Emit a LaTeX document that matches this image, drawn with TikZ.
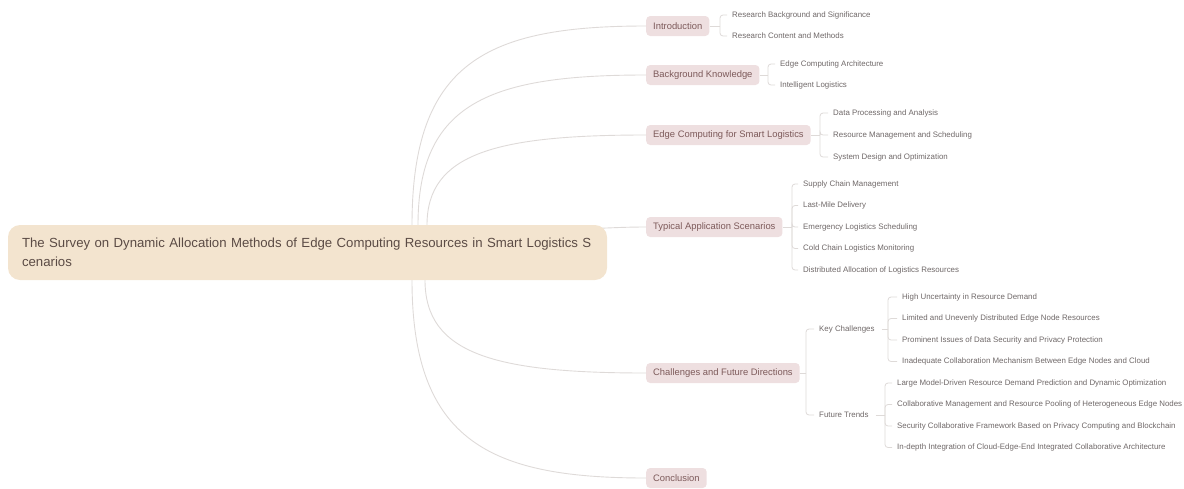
\documentclass[tikz,border=0pt]{standalone}
\usepackage{fontspec}
\setmainfont{Liberation Sans}
\usetikzlibrary{calc}
\definecolor{linec}{HTML}{DEDAD8}
\definecolor{lonefill}{HTML}{EEDFE0}
\definecolor{lonetext}{HTML}{7D5A5A}
\definecolor{rootfill}{HTML}{F3E4CF}
\definecolor{roottext}{HTML}{5B4B45}
\definecolor{childtext}{HTML}{6F6868}
\tikzset{
  conn/.style={draw=linec, line width=0.9pt},
  brk/.style={draw=linec, line width=0.8pt, rounded corners=3pt},
  rootbox/.style={fill=rootfill, text=roottext, rounded corners=12pt, text width=571pt, inner xsep=14pt, inner ysep=0pt, minimum height=55pt, align=left, font=\fontsize{13.2}{19}\selectfont},
  lonebox/.style={fill=lonefill, text=lonetext, rounded corners=4pt, inner xsep=7pt, inner ysep=0pt, minimum height=20pt, anchor=west, font=\fontsize{9.4}{11}\selectfont},
  leaf/.style={text=childtext, inner sep=0pt, anchor=west, font=\fontsize{7.9}{9}\selectfont},
}
\begin{document}
\begin{tikzpicture}[x=1pt,y=-1pt]
\useasboundingbox (0,0) rectangle (1184,488);
% level-1 nodes
\node[lonebox] (intro) at (646,26) {Introduction};
\node[lonebox] (back) at (646,75) {Background Knowledge};
\node[lonebox] (edge) at (646,135) {Edge Computing for Smart Logistics};
\node[lonebox] (typ) at (646,227) {Typical Application Scenarios};
\node[lonebox] (chal) at (646,373) {Challenges and Future Directions};
\node[lonebox] (conc) at (646,478) {Conclusion};
% curve start points on root
\coordinate (s1) at (412,225);
\coordinate (s2) at (418,225);
\coordinate (s3) at (427,225);
\coordinate (s4) at (560,229);
\coordinate (s5) at (425,280);
\coordinate (s6) at (412,280);
\draw[conn] (s1) .. controls ($(s1)!0.82!(s1|-intro.west)$) and ($(s1|-intro.west)!0.32!(intro.west)$) .. (intro.west);
\draw[conn] (s2) .. controls ($(s2)!0.82!(s2|-back.west)$) and ($(s2|-back.west)!0.32!(back.west)$) .. (back.west);
\draw[conn] (s3) .. controls ($(s3)!0.8!(s3|-edge.west)$) and ($(s3|-edge.west)!0.32!(edge.west)$) .. (edge.west);
\draw[conn] (s4) .. controls (600,229) and (615,227) .. (typ.west);
\draw[conn] (s5) .. controls ($(s5)!0.8!(s5|-chal.west)$) and ($(s5|-chal.west)!0.32!(chal.west)$) .. (chal.west);
\draw[conn] (s6) .. controls ($(s6)!0.82!(s6|-conc.west)$) and ($(s6|-conc.west)!0.34!(conc.west)$) .. (conc.west);
% root
\node[rootbox] (root) at (307.5,252.5) {\mbox{The Survey on Dynamic Allocation Methods of Edge Computing Resources in Smart Logistics S}\\cenarios};
% Introduction children
\node[leaf] (i1) at (732,15) {Research Background and Significance};
\node[leaf] (i2) at (732,36) {Research Content and Methods};
\coordinate (ib) at (720,26);
\draw[brk] (intro.east) -- (ib);
\foreach \c in {i1,i2} \draw[brk] (ib) |- ([xshift=-5pt]\c.west);
% Background children
\node[leaf] (b1) at (780,64) {Edge Computing Architecture};
\node[leaf] (b2) at (780,85) {Intelligent Logistics};
\coordinate (bb) at (768,75);
\draw[brk] (back.east) -- (bb);
\foreach \c in {b1,b2} \draw[brk] (bb) |- ([xshift=-5pt]\c.west);
% Edge children
\node[leaf] (e1) at (833,113) {Data Processing and Analysis};
\node[leaf] (e2) at (833,135) {Resource Management and Scheduling};
\node[leaf] (e3) at (833,157) {System Design and Optimization};
\coordinate (eb) at (820,135);
\draw[brk] (edge.east) -- (eb);
\foreach \c in {e1,e2,e3} \draw[brk] (eb) |- ([xshift=-5pt]\c.west);
% Typical children
\node[leaf] (t1) at (803,184) {Supply Chain Management};
\node[leaf] (t2) at (803,205.5) {Last-Mile Delivery};
\node[leaf] (t3) at (803,227) {Emergency Logistics Scheduling};
\node[leaf] (t4) at (803,248.5) {Cold Chain Logistics Monitoring};
\node[leaf] (t5) at (803,270) {Distributed Allocation of Logistics Resources};
\coordinate (tb) at (792,227);
\draw[brk] (typ.east) -- (tb);
\foreach \c in {t1,t2,t3,t4,t5} \draw[brk] (tb) |- ([xshift=-5pt]\c.west);
% Challenges children
\node[leaf] (kc) at (819,329) {Key Challenges};
\node[leaf] (ft) at (819,415) {Future Trends};
\coordinate (cb) at (806,373);
\draw[brk] (chal.east) -- (cb);
\foreach \c in {kc,ft} \draw[brk] (cb) |- ([xshift=-5pt]\c.west);
% Key challenges children
\node[leaf] (k1) at (902,297) {High Uncertainty in Resource Demand};
\node[leaf] (k2) at (902,318.5) {Limited and Unevenly Distributed Edge Node Resources};
\node[leaf] (k3) at (902,340) {Prominent Issues of Data Security and Privacy Protection};
\node[leaf] (k4) at (902,361.5) {Inadequate Collaboration Mechanism Between Edge Nodes and Cloud};
\coordinate (kb) at (888,329);
\draw[brk] ([xshift=7pt]kc.east) -- (kb);
\foreach \c in {k1,k2,k3,k4} \draw[brk] (kb) |- ([xshift=-5pt]\c.west);
% Future trends children
\node[leaf] (f1) at (897,383) {Large Model-Driven Resource Demand Prediction and Dynamic Optimization};
\node[leaf] (f2) at (897,404.5) {Collaborative Management and Resource Pooling of Heterogeneous Edge Nodes};
\node[leaf] (f3) at (897,426) {Security Collaborative Framework Based on Privacy Computing and Blockchain};
\node[leaf] (f4) at (897,447.5) {In-depth Integration of Cloud-Edge-End Integrated Collaborative Architecture};
\coordinate (fb) at (885,415);
\draw[brk] ([xshift=7pt]ft.east) -- (fb);
\foreach \c in {f1,f2,f3,f4} \draw[brk] (fb) |- ([xshift=-5pt]\c.west);
\end{tikzpicture}
\end{document}
